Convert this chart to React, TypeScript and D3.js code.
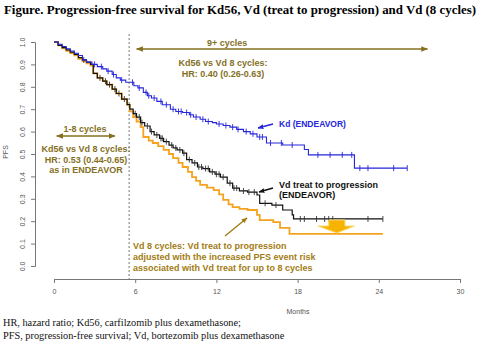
import { useEffect, useRef } from "react"
import * as d3 from "d3"

// Kd (ENDEAVOR) step curve
const kdTimes = [0, 0.3, 0.6, 0.9, 1.2, 1.5, 1.8, 2.1, 2.4, 2.8, 3.2, 3.6, 3.9, 4.3, 4.6, 4.9, 5.3, 5.9, 6.2, 6.6, 6.9, 7.2, 7.6, 8.0, 8.6, 9.0, 9.5, 10.0, 10.3, 10.8, 11.2, 11.7, 12.0, 12.5, 13.0, 13.5, 14.0, 14.5, 15.0, 15.7, 16.9, 18.5, 18.8, 22.2]
const kdSurv = [1.0, 0.99, 0.98, 0.97, 0.96, 0.95, 0.94, 0.92, 0.91, 0.9, 0.89, 0.88, 0.87, 0.855, 0.84, 0.83, 0.82, 0.805, 0.795, 0.775, 0.76, 0.75, 0.735, 0.72, 0.7, 0.69, 0.685, 0.675, 0.665, 0.655, 0.645, 0.64, 0.634, 0.627, 0.62, 0.61, 0.6, 0.59, 0.576, 0.549, 0.54, 0.52, 0.496, 0.437]
const kdEnd = 26.1
const kdCensor = [3.0, 3.5, 4.0, 4.4, 5.0, 5.8, 6.3, 6.8, 7.0, 7.4, 7.9, 8.3, 8.8, 9.2, 9.4, 9.8, 10.1, 10.5, 11.0, 11.4, 12.2, 12.7, 13.2, 13.6, 14.2, 14.7, 15.2, 15.4, 16.0, 16.8, 17.6, 19.5, 20.4, 21.3, 22.0, 22.6, 23.2, 25.1, 26.1]

// Vd treat to progression (ENDEAVOR)
const vdTimes = [0, 0.3, 0.6, 0.9, 1.2, 1.5, 1.8, 2.1, 2.4, 2.7, 2.9, 3.2, 3.6, 3.9, 4.3, 4.6, 5.0, 5.4, 5.6, 5.85, 6.1, 6.4, 6.7, 7.1, 7.4, 7.8, 8.1, 8.5, 8.8, 9.1, 9.5, 9.8, 10.2, 10.6, 11.0, 11.5, 11.9, 12.3, 12.8, 13.2, 13.7, 14.3, 15.0, 15.2, 16.1, 16.9, 17.6, 17.7]
const vdSurv = [1.0, 0.985, 0.975, 0.965, 0.955, 0.945, 0.93, 0.92, 0.91, 0.9, 0.86, 0.84, 0.825, 0.81, 0.79, 0.77, 0.745, 0.72, 0.7, 0.68, 0.665, 0.64, 0.625, 0.6, 0.585, 0.57, 0.555, 0.54, 0.527, 0.518, 0.504, 0.475, 0.46, 0.442, 0.435, 0.42, 0.41, 0.397, 0.37, 0.348, 0.335, 0.33, 0.317, 0.28, 0.272, 0.25, 0.228, 0.21]
const vdEnd = 24.3
const vdCensor = [2.2, 3.4, 3.8, 4.1, 4.5, 4.8, 5.2, 6.0, 6.3, 6.5, 6.9, 7.2, 7.6, 7.9, 8.0, 8.3, 8.7, 9.0, 9.3, 9.6, 10.0, 10.4, 10.7, 10.9, 11.2, 11.4, 11.7, 12.0, 12.2, 12.5, 13.0, 13.3, 13.5, 14.0, 14.4, 14.8, 15.6, 16.4, 18.2, 18.5, 19.4, 20.0, 20.3, 20.6, 23.2, 24.3]

// Vd 8 cycles (adjusted)
const vd8Times = [0, 0.3, 0.6, 0.9, 1.2, 1.5, 1.8, 2.1, 2.4, 2.7, 2.9, 3.2, 3.6, 3.9, 4.3, 4.6, 5.0, 5.4, 5.6, 5.85, 6.1, 6.4, 6.6, 7.0, 7.3, 7.7, 8.1, 8.5, 8.8, 9.2, 9.5, 9.9, 10.2, 10.5, 10.8, 11.3, 11.8, 12.2, 12.5, 12.9, 13.2, 13.7, 14.3, 15.0, 15.2, 16.2, 16.7, 17.4]
const vd8Surv = [1.0, 0.985, 0.972, 0.96, 0.95, 0.94, 0.925, 0.915, 0.905, 0.895, 0.86, 0.84, 0.825, 0.81, 0.79, 0.77, 0.745, 0.72, 0.69, 0.665, 0.645, 0.62, 0.576, 0.56, 0.549, 0.535, 0.518, 0.5, 0.482, 0.46, 0.442, 0.42, 0.397, 0.38, 0.362, 0.35, 0.339, 0.32, 0.295, 0.275, 0.263, 0.255, 0.25, 0.228, 0.205, 0.196, 0.17, 0.143]
const vd8End = 24.3

const xTicks = [0, 6, 12, 18, 24, 30]
const yTicks = [0, 0.1, 0.2, 0.3, 0.4, 0.5, 0.6, 0.7, 0.8, 0.9, 1.0]
const cycleCut = 5.55

const OLIVE = "#84701f"
const GOLD = "#a27c14"
const BLUE = "#2626dc"
const ORANGE = "#f5a31f"

export default function App() {
  const ref = useRef<SVGSVGElement>(null)
  useEffect(() => {
    if (!ref.current) return
    const svg = d3.select(ref.current)
    svg.selectAll("*").remove()
    const x = d3.scaleLinear().domain([0, 30]).range([54, 460])
    const y = d3.scaleLinear().domain([0, 1]).range([266, 42])
    const sans = "Liberation Sans, Arial, sans-serif"
    const serif = "Liberation Serif, Times New Roman, serif"

    svg.append("rect").attr("width", 480).attr("height", 351).attr("fill", "#fff")

    // title + footer
    svg.append("text").attr("x", 4).attr("y", 14).attr("font-family", serif).attr("font-weight", "bold")
      .attr("font-size", 12.5).attr("textLength", 472).attr("lengthAdjust", "spacingAndGlyphs")
      .text("Figure. Progression-free survival for Kd56, Vd (treat to progression) and Vd (8 cycles)")
    ;["HR, hazard ratio; Kd56, carfilzomib plus dexamethasone;", "PFS, progression-free survival; Vd, bortezomib plus dexamethasone"]
      .forEach((t, i) => svg.append("text").attr("x", 3).attr("y", 326 + i * 13).attr("font-family", serif)
        .attr("font-size", 10.3).attr("fill", "#111").text(t))

    // axes
    const ax = svg.append("g").attr("transform", "translate(0,279)")
      .call(d3.axisBottom(x).tickValues(xTicks).tickSize(4).tickPadding(6))
    ax.selectAll("text").style("font-family", sans).style("font-size", "7px").style("fill", "#555")
    ax.selectAll("line,path").style("stroke", "#777")
    const ay = svg.append("g").attr("transform", "translate(35,0)")
      .call(d3.axisLeft(y).tickValues(yTicks).tickSize(4).tickFormat(d3.format(".1f")))
    ay.selectAll("line,path").style("stroke", "#777")
    ay.selectAll(".tick text").attr("transform", "rotate(-90)").attr("x", 0).attr("y", -10)
      .attr("dy", 0).style("text-anchor", "middle").style("font-family", sans).style("font-size", "7px").style("fill", "#555")
    svg.append("text").attr("x", 298).attr("y", 314).attr("text-anchor", "middle").attr("font-family", sans)
      .attr("font-size", 7).attr("fill", "#555").text("Months")
    svg.append("text").attr("transform", "translate(8,152) rotate(-90)").attr("text-anchor", "middle")
      .attr("font-family", sans).attr("font-size", 7).attr("fill", "#555").text("PFS")

    // dashed cut line
    svg.append("line").attr("x1", x(cycleCut)).attr("x2", x(cycleCut)).attr("y1", 34).attr("y2", 279)
      .attr("stroke", "#777").attr("stroke-width", 1).attr("stroke-dasharray", "2,2")

    const stepPath = (ts: number[], ss: number[], end: number) => {
      const pts = ts.map((t, i) => [t, ss[i]] as [number, number]).concat([[end, ss[ss.length - 1]]])
      return d3.line<[number, number]>().x(d => x(d[0])).y(d => y(d[1])).curve(d3.curveStepAfter)(pts)
    }
    const survAt = (ts: number[], ss: number[], t: number) => ss[Math.max(0, d3.bisectRight(ts, t) - 1)]

    svg.append("path").attr("d", stepPath(vd8Times, vd8Surv, vd8End)).attr("fill", "none")
      .attr("stroke", ORANGE).attr("stroke-width", 1.8)
    svg.append("path").attr("d", stepPath(vdTimes, vdSurv, vdEnd)).attr("fill", "none")
      .attr("stroke", "#111").attr("stroke-width", 1.2)
    svg.append("g").selectAll("line").data(vdCensor).join("line")
      .attr("x1", d => x(d)).attr("x2", d => x(d))
      .attr("y1", d => y(survAt(vdTimes, vdSurv, d)) - 3).attr("y2", d => y(survAt(vdTimes, vdSurv, d)) + 3)
      .attr("stroke", "#333").attr("stroke-width", 0.9)
    svg.append("path").attr("d", stepPath(kdTimes, kdSurv, kdEnd)).attr("fill", "none")
      .attr("stroke", BLUE).attr("stroke-width", 1.1)
    svg.append("g").selectAll("line").data(kdCensor).join("line")
      .attr("x1", d => x(d)).attr("x2", d => x(d))
      .attr("y1", d => y(survAt(kdTimes, kdSurv, d)) - 3).attr("y2", d => y(survAt(kdTimes, kdSurv, d)) + 3)
      .attr("stroke", BLUE).attr("stroke-width", 0.9)

    // arrows
    const defs = svg.append("defs")
    const marker = (id: string, col: string, s: number) => defs.append("marker").attr("id", id)
      .attr("viewBox", "0 0 10 10").attr("refX", 9).attr("refY", 5).attr("markerWidth", s).attr("markerHeight", s)
      .attr("orient", "auto-start-reverse").attr("markerUnits", "userSpaceOnUse")
      .append("path").attr("d", "M0,1 L10,5 L0,9 Z").attr("fill", col)
    marker("ao", OLIVE, 7); marker("ab", BLUE, 6); marker("ak", "#111", 6); marker("ag", GOLD, 6)
    const arrow = (x1: number, y1: number, x2: number, y2: number, col: string, m: string, both = false) => {
      const l = svg.append("line").attr("x1", x1).attr("y1", y1).attr("x2", x2).attr("y2", y2)
        .attr("stroke", col).attr("stroke-width", 1.4).attr("marker-end", `url(#${m})`)
      if (both) l.attr("marker-start", `url(#${m})`)
    }
    arrow(x(6.1), 49, x(27.6), 49, OLIVE, "ao", true)
    arrow(x(0.2), 136, x(4.5), 136, OLIVE, "ao", true)
    arrow(273, 124, 258, 128, BLUE, "ab")
    arrow(273, 188, 259, 192, "#111", "ak")
    arrow(225, 236, 247, 218, GOLD, "ag")

    // yellow block arrow
    svg.append("path").attr("d", `M${x(20.3)},220 L${x(21.5)},220 L${x(21.5)},226 L${x(22.2)},226 L${x(20.9)},233 L${x(19.5)},226 L${x(20.3)},226 Z`)
      .attr("fill", "#f6b400").attr("stroke", "#fbd870").attr("stroke-width", 1)

    const label = (lines: string[], px: number, py: number, col: string, anchor: string, fs = 9, lh = 10.5) =>
      lines.forEach((t, i) => svg.append("text").attr("x", px).attr("y", py + i * lh).attr("text-anchor", anchor)
        .attr("font-family", sans).attr("font-weight", "bold").attr("font-size", fs).attr("fill", col).text(t))
    label(["9+ cycles"], x(12.8), 46, OLIVE, "middle")
    label(["Kd56 vs Vd 8 cycles:", "HR: 0.40 (0.26-0.63)"], 223, 66, OLIVE, "middle", 9, 11)
    label(["1-8 cycles"], 85, 132, OLIVE, "middle")
    label(["Kd56 vs Vd 8 cycles:", "HR: 0.53 (0.44-0.65)", "as in ENDEAVOR"], 86, 152, OLIVE, "middle", 9, 10.5)
    label(["Kd (ENDEAVOR)"], 279, 127, BLUE, "start", 8.5)
    label(["Vd treat to progression", "(ENDEAVOR)"], 279, 188, "#111", "start", 9, 10)
    label(["Vd 8 cycles: Vd treat to progression", "adjusted with the increased PFS event risk", "associated with Vd treat for up to 8 cycles"],
      133, 249, GOLD, "start", 9, 11)
  }, [])
  return (
    <svg ref={ref} width={480} height={351}
      style={{ position: "absolute", left: 0, top: 0, display: "block" }} />
  )
}
